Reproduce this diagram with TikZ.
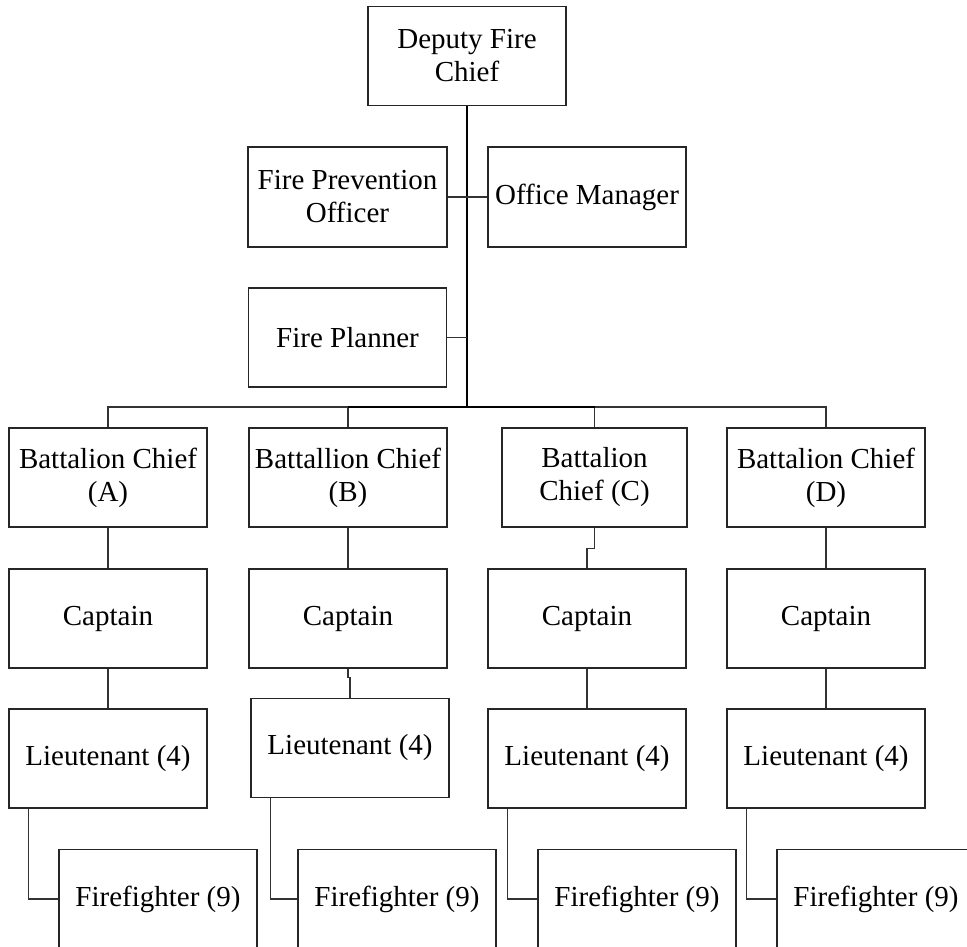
\documentclass[tikz,border=0pt]{standalone}
\usepackage{fontspec}
\setmainfont{Liberation Serif}
\begin{document}
\begin{tikzpicture}[x=1pt,y=-1pt,
  box/.style={draw=black!85,line width=1.3pt,rectangle,inner sep=0pt,align=center,
    font=\fontsize{29}{33}\selectfont,minimum width=198pt,minimum height=99pt},
  narrow/.style={minimum width=185pt},
  conn/.style={draw=black!80,line width=1.1pt},
  trunk/.style={draw=black,line width=2.2pt}]
\useasboundingbox (0,0) rectangle (967,947);
\clip (0,0) rectangle (967,947);
% top
\node[box] (dfc) at (467,56) {Deputy Fire\\Chief};
\node[box,minimum width=199pt,minimum height=100pt] (fpo) at (347.5,197) {Fire Prevention\\Officer};
\node[box,minimum height=100pt] (om) at (587,197) {Office Manager};
\node[box] (fp) at (347.5,337.5) {Fire Planner};
% battalion chiefs
\node[box] (bcA) at (108,477.5) {Battalion Chief\\(A)};
\node[box] (bcB) at (348,477.5) {Battallion Chief\\(B)};
\node[box,narrow] (bcC) at (594.5,477.5) {Battalion\\Chief (C)};
\node[box] (bcD) at (826,477.5) {Battalion Chief\\(D)};
% captains
\node[box] (capA) at (108,618.5) {Captain};
\node[box] (capB) at (348,618.5) {Captain};
\node[box] (capC) at (587,618.5) {Captain};
\node[box] (capD) at (826,618.5) {Captain};
% lieutenants
\node[box] (ltA) at (108,758.5) {Lieutenant (4)};
\node[box] (ltB) at (350,748) {Lieutenant (4)};
\node[box] (ltC) at (587,758.5) {Lieutenant (4)};
\node[box] (ltD) at (826,758.5) {Lieutenant (4)};
% firefighters
\node[box] (ffA) at (158,899) {Firefighter (9)};
\node[box] (ffB) at (397,899) {Firefighter (9)};
\node[box] (ffC) at (637,899) {Firefighter (9)};
\node[box] (ffD) at (876,899) {Firefighter (9)};
% connectors
\coordinate (bus) at (467,407);
\draw[trunk] (dfc.south) -- (bus);
\draw[conn] (fpo.east) -- (om.west);
\draw[conn] (fp.east) -- (fp.east -| bus);
\draw[conn] (bcA.north) |- (bus);
\draw[conn] (bcB.north) |- (bus);
\draw[conn] (bcC.north) |- (bus);
\draw[conn] (bcD.north) |- (bus);
\draw[line width=2pt] (bcB.north |- bus) -- (bcC.north |- bus);
\draw[conn] (bcA.south) -- (capA.north);
\draw[conn] (bcB.south) -- (capB.north);
\draw[conn] (bcC.south) -- ++(0,21) -| (capC.north);
\draw[conn] (bcD.south) -- (capD.north);
\draw[conn] (capA.south) -- (ltA.north);
\draw[conn] (capB.south) -- ++(0,9) -| (ltB.north);
\draw[conn] (capC.south) -- (ltC.north);
\draw[conn] (capD.south) -- (ltD.north);
\draw[conn] ([xshift=20pt]ltA.south west) |- (ffA.west);
\draw[conn] ([xshift=20pt]ltB.south west) |- (ffB.west);
\draw[conn] ([xshift=20pt]ltC.south west) |- (ffC.west);
\draw[conn] ([xshift=20pt]ltD.south west) |- (ffD.west);
\end{tikzpicture}
\end{document}
